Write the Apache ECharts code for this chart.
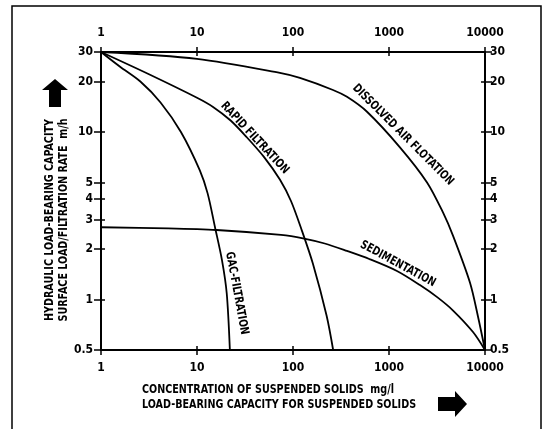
<!DOCTYPE html>
<html>
<head>
<meta charset="utf-8">
<script src="https://cdn.jsdelivr.net/npm/echarts@6/dist/echarts.min.js"></script>
<style>
html,body{margin:0;padding:0;background:#fff;}
#chart{width:549px;height:429px;}
</style>
</head>
<body>
<div id="chart"></div>
<script>
// axis ticks
var xTicks = [1, 10, 100, 1000, 10000];
var yTicks = [0.5, 1, 2, 3, 4, 5, 10, 20, 30];

// curves (mg/l , m/h)
var gacX = [1, 1.58, 2.57, 4.17, 6.8, 10.7, 12.9, 15.4, 18.2, 20.4, 22];
var gacY = [30, 24.5, 20, 15, 10, 5.9, 4.3, 2.7, 1.72, 1.09, 0.5];
var rapidX = [1, 3.16, 10, 14.7, 22.4, 33, 50, 73, 95.5, 124, 161, 224, 262];
var rapidY = [30, 22.1, 16.0, 14.1, 11.7, 9.3, 7.08, 5.2, 3.86, 2.57, 1.64, 0.8, 0.5];
var dafX = [1, 10, 73, 118, 261, 365, 590, 1300, 2490, 3650, 4650, 6980, 8460, 10000];
var dafY = [30, 27.3, 22.5, 21, 17.8, 16.2, 13.2, 8.1, 5.0, 3.31, 2.4, 1.26, 0.79, 0.5];
var sedX = [1, 5, 16, 75, 127, 214, 365, 631, 1210, 2100, 3200, 4650, 7500, 10000];
var sedY = [2.7, 2.66, 2.6, 2.43, 2.32, 2.16, 1.95, 1.74, 1.48, 1.22, 1.03, 0.86, 0.64, 0.5];

// curve names and where they are written
var labelNames = ['RAPID FILTRATION', 'DISSOLVED AIR FLOTATION', 'SEDIMENTATION', 'GAC-FILTRATION'];
var labelX = [40, 1400, 1240, 26];
var labelY = [9.2, 9.6, 1.63, 1.09];
var labelAngle = [-47, -45, -28.5, -79.5];

var yTitle = ['HYDRAULIC LOAD-BEARING CAPACITY', 'SURFACE LOAD/FILTRATION RATE  m/h'];
var xTitle = ['CONCENTRATION OF SUSPENDED SOLIDS  mg/l', 'LOAD-BEARING CAPACITY FOR SUSPENDED SOLIDS'];

var FONT = "'Liberation Sans Narrow', 'DejaVu Sans Condensed', 'Liberation Sans', sans-serif";

var zip = function(xs, ys) {
	return xs.map(function(x, i) { return [x, ys[i]]; });
};
var fmt = function(v) {
	return String(+(+v).toPrecision(6));
};

var chart = echarts.init(document.getElementById('chart'));

var lblStyle = {color: '#000', fontFamily: FONT, fontWeight: 'bold', fontSize: 12, formatter: fmt};
var lineStyle = {color: '#000', width: 2};

var xAxisBase = function(pos, inside) {
	return {
		type: 'log', logBase: 10, min: 1, max: 10000, position: pos,
		axisLine: {show: !inside, lineStyle: lineStyle},
		axisTick: {show: true, inside: inside, length: inside ? 4 : 5, customValues: xTicks, lineStyle: {color: '#000', width: 1.5}},
		axisLabel: inside ? {show: false} : Object.assign({margin: pos == 'top' ? 13 : 12, customValues: xTicks}, lblStyle),
		splitLine: {show: false},
		minorTick: {show: false}
	};
};
var yAxisBase = function(pos, inside) {
	return {
		type: 'log', logBase: 10, min: 0.5, max: 30, position: pos,
		axisLine: {show: !inside, lineStyle: lineStyle},
		axisTick: {show: true, inside: inside, length: inside ? 4 : 7, customValues: yTicks, lineStyle: {color: '#000', width: 1.5}},
		axisLabel: inside ? {show: false} : Object.assign({margin: pos == 'left' ? 8 : 5, customValues: yTicks}, lblStyle),
		splitLine: {show: false}
	};
};

var mkSeries = function(name, xs, ys) {
	return {
		name: name, type: 'line', xAxisIndex: 0, yAxisIndex: 0,
		data: zip(xs, ys), showSymbol: false, smooth: 0.3,
		lineStyle: {color: '#000', width: 1.8}, silent: true
	};
};

var option = {
	backgroundColor: '#fff',
	animation: false,
	grid: {left: 101, right: 64, top: 52, bottom: 79},
	xAxis: [xAxisBase('bottom', false), xAxisBase('top', false), xAxisBase('bottom', true), xAxisBase('top', true)],
	yAxis: [yAxisBase('left', false), yAxisBase('right', false), yAxisBase('left', true), yAxisBase('right', true)],
	series: [
		mkSeries('GAC', gacX, gacY),
		mkSeries('RAPID', rapidX, rapidY),
		mkSeries('DAF', dafX, dafY),
		mkSeries('SED', sedX, sedY)
	]
};
chart.setOption(option);

// texts, arrows and frame
var g = [];
g.push({type: 'rect', shape: {x: 12, y: 6, width: 529, height: 440}, style: {fill: null, stroke: '#000', lineWidth: 1.5}, silent: true});
labelNames.forEach(function(n, i) {
	var p = chart.convertToPixel({seriesIndex: 0}, [labelX[i], labelY[i]]);
	g.push({type: 'text', x: p[0], y: p[1], rotation: labelAngle[i] * Math.PI / 180, scaleX: 0.85,
		style: {text: n, fill: '#000', fontFamily: FONT, fontWeight: 'bold', fontSize: 12, align: 'center', verticalAlign: 'middle'}});
});
yTitle.forEach(function(t, i) {
	g.push({type: 'text', x: 50 + i * 14, y: 220, rotation: Math.PI / 2, scaleX: 0.82,
		style: {text: t, fill: '#000', fontFamily: FONT, fontWeight: 'bold', fontSize: 13, align: 'center', verticalAlign: 'middle'}});
});
xTitle.forEach(function(t, i) {
	g.push({type: 'text', x: 142, y: 390 + i * 15, scaleX: 0.82,
		style: {text: t, fill: '#000', fontFamily: FONT, fontWeight: 'bold', fontSize: 13, align: 'left', verticalAlign: 'middle'}});
});
// up arrow
g.push({type: 'polygon', shape: {points: [[55, 79], [68, 90], [61, 90], [61, 107], [49, 107], [49, 90], [42, 90]]}, style: {fill: '#000'}});
// right arrow
g.push({type: 'polygon', shape: {points: [[467, 404], [455, 391], [455, 397], [438, 397], [438, 411], [455, 411], [455, 417]]}, style: {fill: '#000'}});

chart.setOption({graphic: g});
</script>
</body>
</html>
